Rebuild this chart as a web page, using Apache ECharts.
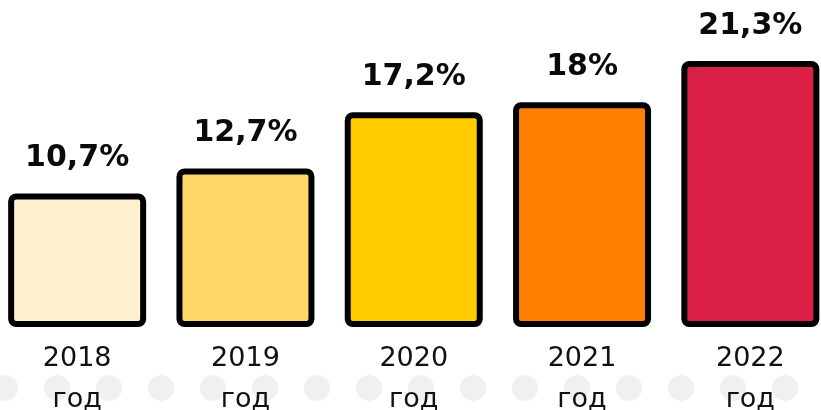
<!DOCTYPE html>
<html>
<head>
<meta charset="utf-8">
<script src="https://cdn.jsdelivr.net/npm/echarts@6/dist/echarts.min.js"></script>
<style>
html,body{margin:0;padding:0;background:#fff;}
#chart{width:821px;height:410px;}
</style>
</head>
<body>
<div id="chart"></div>
<script>
const years = ['2018', '2019', '2020', '2021', '2022'];
const yearSuffix = 'год';
const shares = [10.7, 12.7, 17.2, 18, 21.3];
const valueLabels = ['10,7%', '12,7%', '17,2%', '18%', '21,3%'];
const barColors = ['#FFF0CE', '#FCD667', '#FFCC00', '#FF8000', '#DA2044'];

// decorative dot pattern tile
const tile = document.createElement('canvas');
tile.width = 52; tile.height = 40;
const tctx = tile.getContext('2d');
tctx.fillStyle = '#f0f0f0';
tctx.beginPath();
tctx.arc(26, 20, 13, 0, Math.PI * 2);
tctx.fill();

const chart = echarts.init(document.getElementById('chart'), null, {renderer: 'canvas'});
chart.setOption({
  backgroundColor: '#ffffff',
  animation: false,
  graphic: [{
    type: 'rect',
    x: -21, y: 368,
    z: -10,
    silent: true,
    shape: {x: 0, y: 0, width: 900, height: 40},
    style: {fill: {image: tile, repeat: 'repeat'}}
  }],
  grid: {left: -7, right: -13.5, top: 61, bottom: 83, containLabel: false, outerBoundsMode: 'none'},
  xAxis: {
    type: 'category',
    data: years.map(y => y + '\n' + yearSuffix),
    axisLine: {show: false},
    axisTick: {show: false},
    axisLabel: {
      margin: 11,
      fontFamily: 'DejaVu Sans',
      fontSize: 27,
      lineHeight: 41,
      color: '#111'
    }
  },
  yAxis: {
    type: 'value',
    min: 0,
    max: 21.3,
    show: false,
    splitLine: {show: false}
  },
  series: [{
    type: 'bar',
    barWidth: 138,
    data: shares.map((v, i) => ({
      value: v,
      itemStyle: {color: barColors[i]},
      label: {formatter: valueLabels[i]}
    })),
    itemStyle: {borderColor: '#000000', borderWidth: 6, borderRadius: 5},
    label: {
      show: true,
      position: 'top',
      distance: 20,
      fontFamily: 'DejaVu Sans',
      fontWeight: 'bold',
      fontSize: 30,
      color: '#0a0a0a'
    }
  }]
});
</script>
</body>
</html>
